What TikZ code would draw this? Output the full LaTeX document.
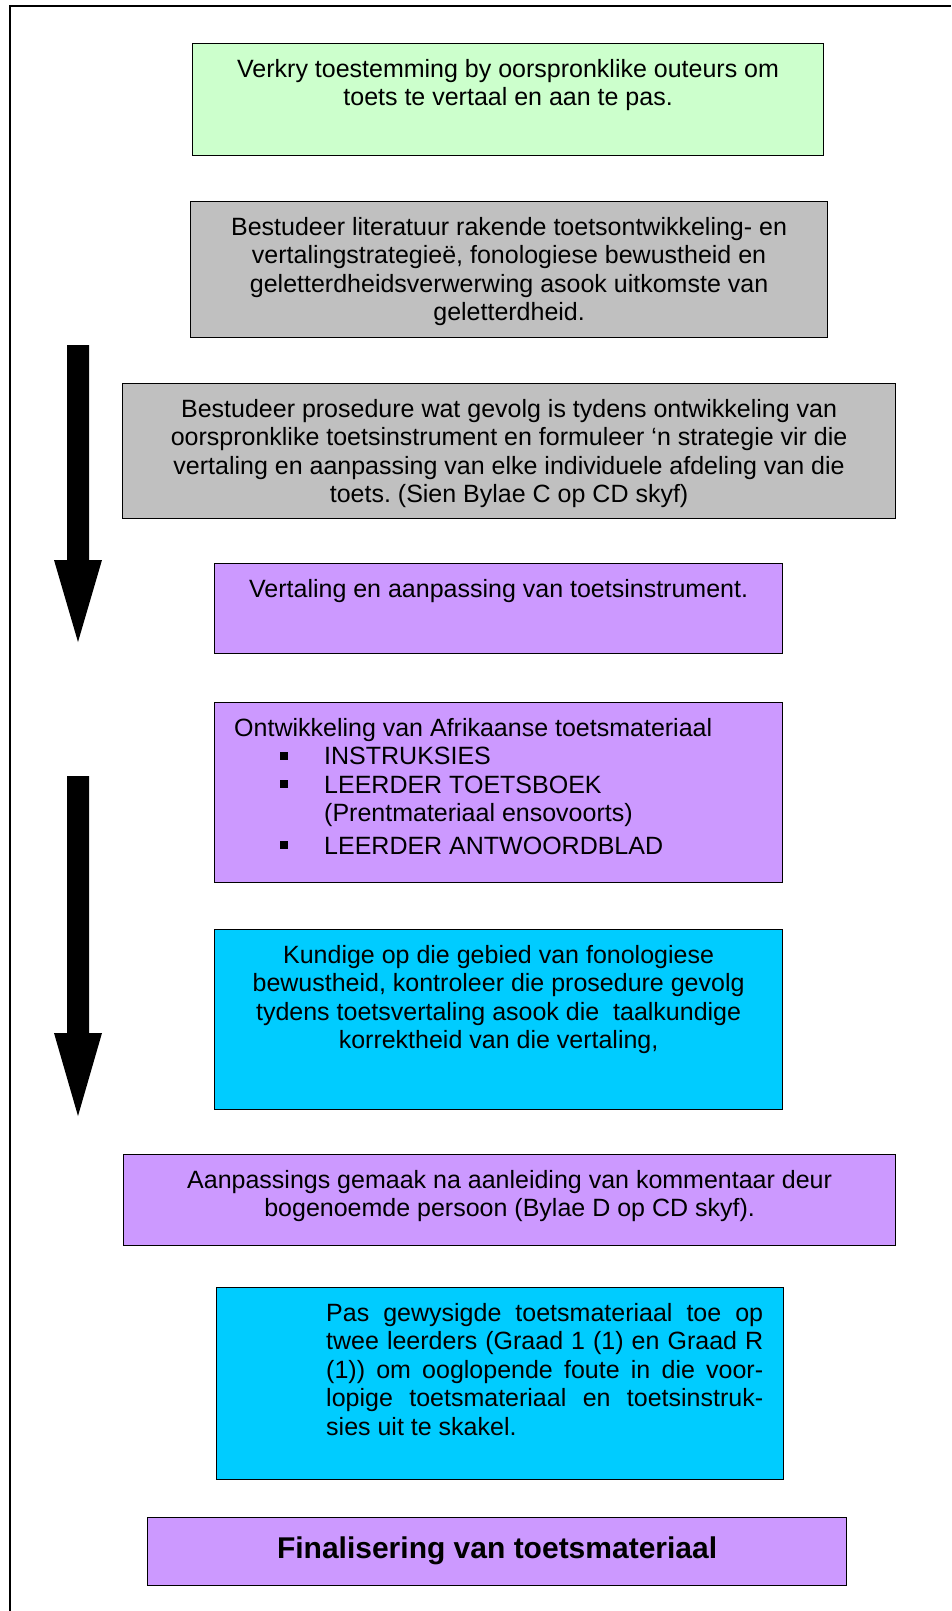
\documentclass[tikz,border=0pt]{standalone}
\usepackage{fontspec}
\setmainfont{Liberation Sans}
\usetikzlibrary{positioning}
\definecolor{groen}{HTML}{CCFFCC}
\definecolor{grys}{HTML}{C0C0C0}
\definecolor{pers}{HTML}{CC99FF}
\definecolor{blou}{HTML}{00CCFF}
\newcommand{\blokkie}{\rule[5pt]{8pt}{8pt}}
\frenchspacing

\begin{document}
\begin{tikzpicture}[x=1pt,y=-1pt,
  blok/.style={draw,line width=1.2pt,anchor=north west,inner sep=0pt},
  teks/.style={inner sep=0pt,align=center,font=\fontsize{25}{28.5}\selectfont}]
\useasboundingbox (0,0) rectangle (951,1611);
\draw [line width=2pt] (10,1611) -- (10,6) -- (951,6);

\fill (67,345) -- (89,345) -- (89,560) -- (102,560) -- (78,642) -- (54,560) -- (67,560) -- cycle;
\fill (67,776) -- (89,776) -- (89,1033) -- (102,1033) -- (78,1116) -- (54,1033) -- (67,1033) -- cycle;

\node [blok,fill=groen,minimum width=631,minimum height=112] (toestem) at (192,43) {};
\node [teks,below=14pt of toestem.north] (toestemT) {\strut Verkry toestemming by oorspronklike outeurs om\\toets te vertaal en aan te pas.};

\node [blok,fill=grys,minimum width=637,minimum height=136] (literatuur) at (190,201) {};
\node [teks,below=14pt of literatuur.north] (literatuurT) {\strut Bestudeer literatuur rakende toetsontwikkeling- en\\vertalingstrategieë, fonologiese bewustheid en\\geletterdheidsverwerwing asook uitkomste van\\geletterdheid.};

\node [blok,fill=grys,minimum width=773,minimum height=135] (prosedure) at (122,383) {};
\node [teks,below=14pt of prosedure.north] (prosedureT) {\strut Bestudeer prosedure wat gevolg is tydens ontwikkeling van\\oorspronklike toetsinstrument en formuleer ‘n strategie vir die\\vertaling en aanpassing van elke individuele afdeling van die\\toets. (Sien Bylae C op CD skyf)};

\node [blok,fill=pers,minimum width=568,minimum height=90] (vertaling) at (214,563) {};
\node [teks,below=14pt of vertaling.north] (vertalingT) {\strut Vertaling en aanpassing van toetsinstrument.};

\node [blok,fill=pers,minimum width=568,minimum height=180] (ontwikkel) at (214,702) {};
\node [teks,align=left,below right=14pt and 20pt of ontwikkel.north west] (ontwikkelT) {\strut Ontwikkeling van Afrikaanse toetsmateriaal\\
\hspace*{46pt}\blokkie\hspace*{36pt}INSTRUKSIES\\
\hspace*{46pt}\blokkie\hspace*{36pt}LEERDER TOETSBOEK\\
\hspace*{90pt}(Prentmateriaal ensovoorts)\\[4pt]
\hspace*{46pt}\blokkie\hspace*{36pt}LEERDER ANTWOORDBLAD};

\node [blok,fill=blou,minimum width=568,minimum height=180] (kundige) at (214,929) {};
\node [teks,below=14pt of kundige.north] (kundigeT) {\strut Kundige op die gebied van fonologiese\\bewustheid, kontroleer die prosedure gevolg\\tydens toetsvertaling asook die~~taalkundige\\korrektheid van die vertaling,};

\node [blok,fill=pers,minimum width=772,minimum height=91] (aanpas) at (123,1154) {};
\node [teks,below=14pt of aanpas.north] (aanpasT) {\strut Aanpassings gemaak na aanleiding van kommentaar deur\\bogenoemde persoon (Bylae D op CD skyf).};

\node [blok,fill=blou,minimum width=567,minimum height=192] (toepas) at (216,1287) {};
\node [teks,align=justify,text width=437pt,below right=14pt and 110pt of toepas.north west] (toepasT) {\strut Pas gewysigde toetsmateriaal toe op\linebreak twee leerders (Graad 1 (1) en Graad R\linebreak (1)) om ooglopende foute in die voor-\linebreak lopige toetsmateriaal en toetsinstruk-\linebreak sies uit te skakel.};

\node [blok,fill=pers,minimum width=699,minimum height=68] (final) at (147,1517) {};
\node [teks,font=\fontsize{30}{34}\selectfont\bfseries] (finalT) at ([yshift=1pt]final.center) {Finalisering van toetsmateriaal};
\end{tikzpicture}
\end{document}
